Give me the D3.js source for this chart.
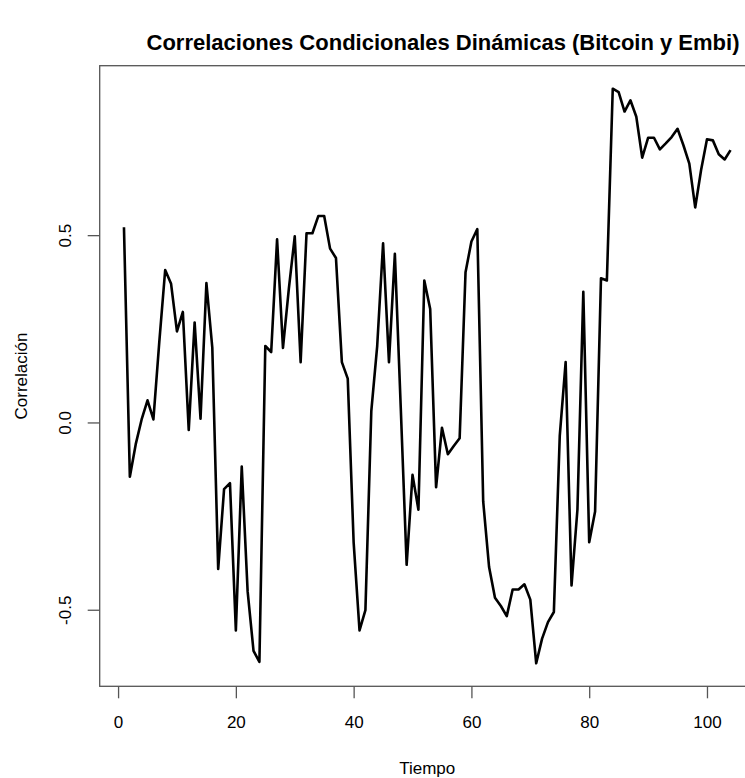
<!DOCTYPE html>
<html>
<head>
<meta charset="utf-8">
<script src="https://cdn.jsdelivr.net/npm/d3@7"></script>
<style>
  html, body { margin: 0; padding: 0; background: #fff; }
  svg text { font-family: "Liberation Sans", Arial, sans-serif; fill: #000; }
</style>
</head>
<body>
<div id="viz"></div>
<script>
// Correlacion condicional dinamica, t = 1..104
const tiempo = d3.range(1, 105);
const correlacion = [
  0.521, -0.145, -0.058, 0.008, 0.059, 0.008, 0.215, 0.407, 0.370, 0.243,
  0.295, -0.020, 0.267, 0.010, 0.372, 0.200, -0.391, -0.178, -0.162, -0.555,
  -0.118, -0.451, -0.610, -0.639, 0.204, 0.188, 0.489, 0.199, 0.357, 0.497,
  0.161, 0.505, 0.505, 0.551, 0.551, 0.464, 0.439, 0.161, 0.117, -0.320,
  -0.555, -0.501, 0.030, 0.204, 0.478, 0.161, 0.450, 0.040, -0.380, -0.140,
  -0.233, 0.379, 0.303, -0.173, -0.014, -0.085, -0.063, -0.042, 0.401, 0.483,
  0.516, -0.211, -0.386, -0.468, -0.490, -0.517, -0.446, -0.446, -0.432, -0.473,
  -0.643, -0.577, -0.533, -0.506, -0.036, 0.161, -0.435, -0.233, 0.349, -0.320,
  -0.238, 0.385, 0.379, 0.891, 0.882, 0.830, 0.860, 0.816, 0.707, 0.760,
  0.760, 0.729, 0.745, 0.762, 0.784, 0.740, 0.691, 0.574, 0.674, 0.756,
  0.753, 0.716, 0.702, 0.727
];
const xTicks = [0, 20, 40, 60, 80, 100];
const yTicks = [-0.5, 0.0, 0.5];
const yTickLabels = ["-0.5", "0.0", "0.5"];

const titulo = "Correlaciones Condicionales Dinámicas (Bitcoin y Embi)";
const xLab = "Tiempo";
const yLab = "Correlación";

const W = 745, H = 778;
// plot region (right side runs past the picture edge, as in the reference)
const pLeft = 99.7, pRight = 754.8, pTop = 65.7, pBottom = 686.3;

// R style 4% padding on both axes
function pad(ext) {
  const r = ext[1] - ext[0];
  return [ext[0] - 0.04 * r, ext[1] + 0.04 * r];
}

const x = d3.scaleLinear().domain(pad(d3.extent(tiempo))).range([pLeft, pRight]);
const y = d3.scaleLinear().domain(pad(d3.extent(correlacion))).range([pBottom, pTop]);

const svg = d3.select("#viz").append("svg")
  .attr("width", W)
  .attr("height", H)
  .attr("viewBox", `0 0 ${W} ${H}`);

// box
svg.append("rect")
  .attr("x", pLeft).attr("y", pTop)
  .attr("width", pRight - pLeft).attr("height", pBottom - pTop)
  .attr("fill", "none")
  .attr("stroke", "#555")
  .attr("stroke-width", 1.3);

// x axis
const xAxis = svg.append("g")
  .attr("transform", `translate(0,${pBottom})`)
  .call(d3.axisBottom(x).tickValues(xTicks).tickSize(12).tickPadding(18).tickFormat(d3.format("d")));
xAxis.select(".domain").remove();
xAxis.selectAll("line").attr("stroke", "#555").attr("stroke-width", 1.3);
xAxis.selectAll("text").attr("font-size", 17).attr("fill", "#000");

// y axis, labels rotated like R
const yAxis = svg.append("g")
  .attr("transform", `translate(${pLeft},0)`)
  .call(d3.axisLeft(y).tickValues(yTicks).tickSize(12).tickFormat((d, i) => yTickLabels[i]));
yAxis.select(".domain").remove();
yAxis.selectAll("line").attr("stroke", "#555").attr("stroke-width", 1.3);
yAxis.selectAll("text")
  .attr("font-size", 17)
  .attr("fill", "#000")
  .attr("transform", "rotate(-90)")
  .attr("text-anchor", "middle")
  .attr("x", 0)
  .attr("y", -28.7)
  .attr("dy", 0);

// series
const line = d3.line()
  .x((d, i) => x(tiempo[i]))
  .y(d => y(d));

svg.append("path")
  .datum(correlacion)
  .attr("d", line)
  .attr("fill", "none")
  .attr("stroke", "#000")
  .attr("stroke-width", 2.6)
  .attr("stroke-linejoin", "round");

// titles
svg.append("text")
  .attr("x", 443)
  .attr("y", 50)
  .attr("text-anchor", "middle")
  .attr("font-size", 22)
  .attr("font-weight", "bold")
  .text(titulo);

svg.append("text")
  .attr("x", (pLeft + pRight) / 2)
  .attr("y", 774)
  .attr("text-anchor", "middle")
  .attr("font-size", 17)
  .text(xLab);

svg.append("text")
  .attr("transform", `translate(27,${(pTop + pBottom) / 2}) rotate(-90)`)
  .attr("text-anchor", "middle")
  .attr("font-size", 17)
  .text(yLab);
</script>
</body>
</html>
